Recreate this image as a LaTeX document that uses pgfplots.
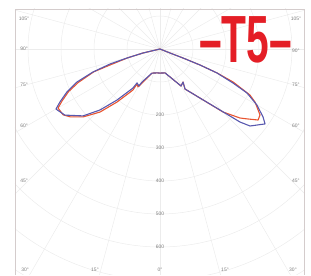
\documentclass[border=0pt]{standalone}
\usepackage{fontspec}
\setmainfont{Liberation Sans}
\usepackage{pgfplots}
\pgfplotsset{compat=1.18}
\definecolor{bl}{RGB}{88,88,175}
\definecolor{rd}{RGB}{232,84,48}
\definecolor{gridc}{RGB}{236,236,236}
\definecolor{framec}{RGB}{212,204,204}
\definecolor{tfive}{RGB}{228,30,38}
\definecolor{lab}{RGB}{125,125,125}
\begin{document}
\begin{tikzpicture}
\tikzset{lbl/.style={font=\fontsize{5}{6}\selectfont, text=lab, inner sep=0.6bp}}
\begin{axis}[
  scale only axis, width=311bp, height=275bp,
  xmin=-484.85, xmax=457.58, ymin=-684.85, ymax=148.48,
  hide axis, clip=false,
]
\begin{scope}
\clip (axis cs:-439.4,121.2) rectangle (axis cs:436.4,-684.85);
\pgfplotsinvokeforeach{100,200,...,900}{
  \draw[gridc, line width=0.5bp] (axis cs:0,0) circle[radius=#1*0.33bp];
}
\pgfplotsinvokeforeach{0,15,...,345}{
  \draw[gridc, line width=0.5bp] (axis cs:0,0) -- ++(#1:330bp);
}
\end{scope}
\draw[framec, line width=0.8bp] (axis cs:-439.4,-684.85) -- (axis cs:-439.4,121.2) -- (axis cs:436.4,121.2) -- (axis cs:436.4,-684.85);

% red series (angle in polar axis convention, intensity)
\addplot[rd, line width=1.1bp, data cs=polar, line join=round] coordinates {
(180,0) (193.2,52) (195.3,102) (197.7,157) (199.0,212) (202.3,268) (205,306)
(207.95,336) (210.05,357) (214.2,355) (217.1,341) (221.45,311) (226.4,264)
(230.95,207) (236.6,149) (236.7,127) (239.9,133) (242.1,117) (251.6,77)
(262.9,73) (270,73) (281.8,74) (289.7,90) (299.6,129) (304.9,122) (302.0,143)
(309.2,192) (315,270) (319.2,320) (321.2,338) (324.1,367) (326.6,363)
(330.8,330) (332.9,306) (335.7,243) (337.2,188) (338.2,131) (338.6,75)
(338.2,33) (360,0)
};
% blue series
\addplot[bl, line width=1.1bp, data cs=polar, line join=round] coordinates {
(180,0) (193.2,53) (195.3,104) (196.7,158) (198.95,215) (201.7,271) (204.8,311)
(207.9,343) (210.0,364) (214.8,351) (221.0,309) (225.5,259) (229.9,202)
(235.3,144) (235.9,124) (240.4,129) (241.4,114) (251.6,77) (262.9,73) (270,73)
(281.8,74) (289.7,90) (299.6,129) (304.9,122) (302.0,143) (309.2,192)
(314.5,259) (317.6,328) (319.45,359) (324.5,391) (326.6,374) (330.0,339)
(333.2,295) (335.0,244) (337.2,187) (338.2,131) (338.6,75) (338.2,33) (360,0)
};

% angle labels
\node[lbl] at (axis cs:-412,90.9) {105°};
\node[lbl] at (axis cs:-412,0) {90°};
\node[lbl] at (axis cs:-412,-109.1) {75°};
\node[lbl] at (axis cs:-412,-233.3) {60°};
\node[lbl] at (axis cs:-412,-400) {45°};
\node[lbl] at (axis cs:412,90.9) {105°};
\node[lbl] at (axis cs:412,-6) {90°};
\node[lbl] at (axis cs:412,-109.1) {75°};
\node[lbl] at (axis cs:412,-233.3) {60°};
\node[lbl] at (axis cs:412,-400) {45°};
\node[lbl] at (axis cs:-409,-669.7) {30°};
\node[lbl] at (axis cs:-197,-669.7) {15°};
\node[lbl] at (axis cs:0,-669.7) {0°};
\node[lbl] at (axis cs:197,-669.7) {15°};
\node[lbl] at (axis cs:403,-669.7) {30°};
% radial labels
\node[lbl] at (axis cs:0,-200) {200};
\node[lbl] at (axis cs:0,-300) {300};
\node[lbl] at (axis cs:0,-400) {400};
\node[lbl] at (axis cs:0,-500) {500};
\node[lbl] at (axis cs:0,-600) {600};

\node[anchor=base west, inner sep=0pt, text=tfive, font=\fontsize{67}{67}\selectfont\bfseries, xscale=0.61] at (axis cs:118.2,-42.4) {–T5–};
\end{axis}
\path (current axis.south west) rectangle (current axis.north east);
\end{tikzpicture}
\end{document}
